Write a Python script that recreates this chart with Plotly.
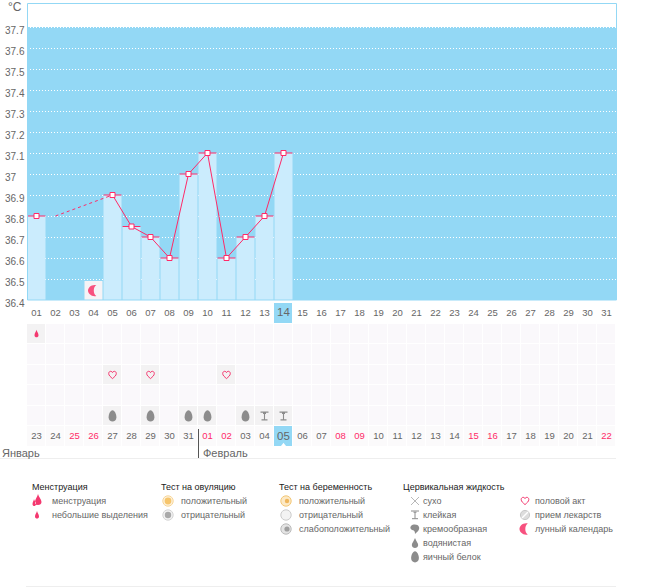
import plotly.graph_objects as go

W, H = 655, 587
FONT = "Liberation Sans"
GREY = "#666666"
PINK = "#FF2A68"
ICON_PINK = "#F4386F"
ICON_GREY = "#8C8C8C"
SKY = "#93D8F5"
BAR = "#CBECFD"

# temperature chart
days = list(range(1, 32))
temp_days = list(range(1, 15))
temps = [36.8, None, None, None, 36.9, 36.75, 36.7, 36.6, 37.0, 37.1, 36.6, 36.7, 36.8, 37.1]
gap_days = [2, 5]
gap_temps = [36.8, 36.9]
moon_days = [4]
moon_tops = [36.49]
temp_ticks = [36.4, 36.5, 36.6, 36.7, 36.8, 36.9, 37.0, 37.1, 37.2, 37.3, 37.4, 37.5, 37.6, 37.7]
temp_labels = ["36.4", "36.5", "36.6", "36.7", "36.8", "36.9", "37", "37.1", "37.2", "37.3", "37.4", "37.5", "37.6", "37.7"]

# date rows
cycle_labels = ["%02d" % d for d in days]
date_labels = ["23", "24", "25", "26", "27", "28", "29", "30", "31", "01", "02", "03", "04", "05", "06", "07",
               "08", "09", "10", "11", "12", "13", "14", "15", "16", "17", "18", "19", "20", "21", "22"]
weekend_dates = ["25", "26", "01", "02", "08", "09", "15", "16", "22"]
today = 14

# symptom rows, row 5 is the top one
spotting_days = [1]
sex_days = [5, 7, 11]
egg_white_days = [5, 7, 9, 10, 12]
sticky_days = [13, 14]


def paper(px, py):
    return px / W, 1 - py / H


def circle(xref, yref, x, y, r, fill, line="rgba(0,0,0,0)", lw=1):
    return dict(type="circle", xref=xref, yref=yref, xsizemode="pixel", ysizemode="pixel",
                xanchor=x, yanchor=y, x0=-r, x1=r, y0=-r, y1=r, fillcolor=fill,
                line=dict(color=line, width=lw), layer="above")


def glyph(xref, yref, x, y, path, fill="rgba(0,0,0,0)", line="rgba(0,0,0,0)", lw=1):
    return dict(type="path", xref=xref, yref=yref, xsizemode="pixel", ysizemode="pixel",
                xanchor=x, yanchor=y, path=path, fillcolor=fill,
                line=dict(color=line, width=lw), layer="above")


SMALL_DROP = "M0,4 C0.5,2 2,0.5 2,-1.5 C2,-3 1,-3.5 0,-3.5 C-1,-3.5 -2,-3 -2,-1.5 C-2,0.5 -0.5,2 0,4 Z"
BIG_DROP = ("M1,7 C1.5,4 4.5,2 4.5,-1 C4.5,-3 3,-4 1,-4 C-1,-4 -2,-3 -2,-1 C-2,2 0.5,4 1,7 Z "
            "M-3,2 C-3,1 -4.5,-1 -4.5,-3 C-4.5,-4.5 -3.5,-5 -3,-5 C-2,-5 -1,-4.5 -1,-3 C-1,-1 -3,1 -3,2 Z")
HEART = ("M0,-3.6 C-2,-1.8 -3.8,-0.5 -3.8,1.5 C-3.8,3 -2.7,3.7 -1.8,3.7 C-0.9,3.7 -0.3,3.2 0,2.4 "
         "C0.3,3.2 0.9,3.7 1.8,3.7 C2.7,3.7 3.8,3 3.8,1.5 C3.8,-0.5 2,-1.8 0,-3.6 Z")
EGG = "M0,5.8 C2.2,5.8 3.9,1.8 3.9,-1 C3.9,-3.9 2,-5.4 0,-5.4 C-2,-5.4 -3.9,-3.9 -3.9,-1 C-3.9,1.8 -2.2,5.8 0,5.8 Z"
STICKY = "M-4,4 L4,4 M-1.5,2.8 L1.5,2.8 M0,3 L0,-3.5 M-3,-3.7 L3,-3.7"
DRY = "M-4,4 L4,-4 M-4,-4 L4,4"
CREAM = "M-4,3 C-2,5 3,5 4,2 C5,-1 2,-3 0,-5 C0,-2 -1,-1 -3,-1 C-5,0 -5,2 -4,3 Z"
WATER = "M0,5 C1,2 3.2,0 3.2,-2 C3.2,-4 1.5,-5 0,-5 C-1.5,-5 -3.2,-4 -3.2,-2 C-3.2,0 -1,2 0,5 Z"
MOON = "M2.8,5.5 C-2,6.5 -5.5,3 -5.5,0 C-5.5,-3 -2,-6.5 2.8,-5.5 C-0.5,-3.5 -0.5,3.5 2.8,5.5 Z"

shapes = []

# blue field and frame of the chart
shapes.append(dict(type="rect", xref="x", yref="y", x0=0.5, x1=31.5, y0=36.4, y1=37.7,
                   fillcolor=SKY, line_width=0, layer="below"))
shapes.append(dict(type="rect", xref="paper", yref="paper", x0=27.5 / W, x1=616.5 / W,
                   y0=paper(0, 300)[1], y1=paper(0, 3.5)[1],
                   fillcolor="rgba(0,0,0,0)", line=dict(color=SKY, width=1), layer="above"))

# icons in the rows
for d in moon_days:
    shapes.append(glyph("x", "y", d, 36.445, MOON, fill="#F7517F"))
for d in spotting_days:
    shapes.append(glyph("x", "y2", d, 5, SMALL_DROP, fill=ICON_PINK))
for d in sex_days:
    shapes.append(glyph("x", "y2", d, 3, HEART, line=ICON_PINK, lw=1))
for d in egg_white_days:
    shapes.append(glyph("x", "y2", d, 1, EGG, fill=ICON_GREY))
for d in sticky_days:
    shapes.append(glyph("x", "y2", d, 1, STICKY, line=ICON_GREY, lw=1.1))

# month divider and separators
shapes.append(dict(type="line", xref="paper", yref="paper", x0=198.5 / W, x1=198.5 / W,
                   y0=paper(0, 458)[1], y1=paper(0, 429)[1], line=dict(color="#555555", width=1)))
for py, px0 in [(458.5, 0), (586.5, 26)]:
    shapes.append(dict(type="line", xref="paper", yref="paper", x0=px0 / W, x1=616 / W,
                       y0=paper(0, py)[1], y1=paper(0, py)[1], line=dict(color="#EEEEEE", width=1)))

fig = go.Figure()

# tile grid: 0 empty, 1 used, 2 date row, 3 today
rows = list(range(7))
z = []
for r in rows:
    if r == 6:
        z.append([3 if d == today else None for d in days])
    elif r == 0:
        z.append([3 if d == today else 2 for d in days])
    else:
        z.append([0] * 31)
for d in spotting_days:
    z[5][d - 1] = 1
for d in sex_days:
    z[3][d - 1] = 1
for d in egg_white_days + sticky_days:
    z[1][d - 1] = 1

fig.add_trace(go.Heatmap(x=days, y=rows, z=z, xaxis="x", yaxis="y2", zmin=0, zmax=3, xgap=1, ygap=1,
                         showscale=False, hoverinfo="skip",
                         colorscale=[[0, "#FAF8FB"], [0.167, "#FAF8FB"], [0.167, "#F3F2F3"], [0.5, "#F3F2F3"],
                                     [0.5, "#FBFAFB"], [0.833, "#FBFAFB"], [0.833, SKY], [1, SKY]]))

fig.add_trace(go.Bar(x=temp_days, y=temps, width=0.947, marker=dict(color=BAR, line_width=0)))
fig.add_trace(go.Bar(x=moon_days, y=moon_tops, width=0.947, marker=dict(color="#F6F3F6", line_width=0)))
fig.add_trace(go.Scatter(x=gap_days, y=gap_temps, mode="lines",
                         line=dict(color=PINK, width=1, dash="3px,3px")))
fig.add_trace(go.Scatter(x=temp_days, y=temps, mode="lines+markers",
                         line=dict(color=PINK, width=1),
                         marker=dict(symbol="square", size=5, color="white", line=dict(color=PINK, width=1)),
                         error_x=dict(type="constant", value=0.47, width=0, thickness=1, color=PINK)))

# date labels
top_font = [11.5 if d == today else 9.5 for d in days]
fig.add_trace(go.Scatter(x=days, y=[6] * 31, mode="text", text=cycle_labels, yaxis="y2",
                         textfont=dict(size=top_font, color=GREY, family=FONT), textposition="middle center"))
date_colors = [PINK if t in weekend_dates else GREY for t in date_labels]
fig.add_trace(go.Scatter(x=days, y=[0] * 31, mode="text", text=date_labels, yaxis="y2",
                         textfont=dict(size=top_font, color=date_colors, family=FONT),
                         textposition="middle center"))
fig.add_trace(go.Scatter(x=[today], y=[-0.42], mode="markers", yaxis="y2", cliponaxis=False,
                         marker=dict(symbol="triangle-up", size=5, color="white")))

annotations = []
for tick, label_text in zip(temp_ticks, temp_labels):
    annotations.append(dict(x=paper(3, 0)[0], xref="paper", y=tick, yref="y", yshift=-3, text=label_text,
                            showarrow=False, xanchor="left", yanchor="middle", font=dict(size=10, color=GREY)))


def label(px, py, text, size=9, color=GREY):
    annotations.append(dict(x=paper(px - 2, py)[0], y=paper(px, py)[1], xref="paper", yref="paper", text=text,
                            showarrow=False, xanchor="left", yanchor="middle",
                            font=dict(size=size, color=color)))


label(8, 7, "°C", 12)
label(2, 453, "Январь", 11)
label(203, 453, "Февраль", 11)

# legend
legend_titles = ["Менструация", "Тест на овуляцию", "Тест на беременность", "Цервикальная жидкость"]
legend_title_x = [32, 161, 279, 403]
period_items = ["менструация", "небольшие выделения"]
ovulation_items = ["положительный", "отрицательный"]
pregnancy_items = ["положительный", "отрицательный", "слабоположительный"]
fluid_items = ["сухо", "клейкая", "кремообразная", "водянистая", "яичный белок"]
other_items = ["половой акт", "прием лекарств", "лунный календарь"]

for text, px in zip(legend_titles, legend_title_x):
    label(px, 487, text, 9, "#222222")
for items, px in [(period_items, 52), (ovulation_items, 181), (pregnancy_items, 299), (fluid_items, 423),
                  (other_items, 535)]:
    for i, text in enumerate(items):
        label(px, 501 + 14 * i, text)


def at(px, row):
    return paper(px, 501 + 14 * row)


x, y = at(37, 0)
shapes.append(glyph("paper", "paper", x, y, BIG_DROP, fill=ICON_PINK))
x, y = at(37, 1)
shapes.append(glyph("paper", "paper", x, y, SMALL_DROP, fill=ICON_PINK))
x, y = at(168, 0)
shapes.append(circle("paper", "paper", x, y, 5.2, "#FDF3DF", "#F8D596", 1))
shapes.append(circle("paper", "paper", x, y, 3.4, "#F6C56C"))
x, y = at(168, 1)
shapes.append(circle("paper", "paper", x, y, 5.2, "#F2F2F2", "#D4D4D4", 1))
shapes.append(circle("paper", "paper", x, y, 3.2, "#A9A9A9"))
x, y = at(286, 0)
shapes.append(circle("paper", "paper", x, y, 5.2, "#FCE9C6", "#F3C776", 1))
shapes.append(circle("paper", "paper", x + 1 / W, y, 2.2, "#EFB65C"))
x, y = at(286, 1)
shapes.append(circle("paper", "paper", x, y, 5.2, "#F3F3F3", "#CCCCCC", 1))
x, y = at(286, 2)
shapes.append(circle("paper", "paper", x, y, 5.2, "#E4E4E4", "#BBBBBB", 1))
shapes.append(circle("paper", "paper", x + 1 / W, y, 2.6, "#9F9F9F"))
x, y = at(415, 0)
shapes.append(glyph("paper", "paper", x, y, DRY, line="#999999", lw=0.7))
x, y = at(415, 1)
shapes.append(glyph("paper", "paper", x, y, STICKY, line=ICON_GREY, lw=1))
x, y = at(415, 2)
shapes.append(glyph("paper", "paper", x, y, CREAM, fill=ICON_GREY))
x, y = at(415, 3)
shapes.append(glyph("paper", "paper", x, y, WATER, fill=ICON_GREY))
x, y = at(415, 4)
shapes.append(glyph("paper", "paper", x, y, EGG, fill=ICON_GREY))
x, y = at(525, 0)
shapes.append(glyph("paper", "paper", x, y, HEART, line=ICON_PINK, lw=1))
x, y = at(525, 1)
shapes.append(circle("paper", "paper", x, y, 4.6, "#DDDDDD", "#C8C8C8", 1))
shapes.append(glyph("paper", "paper", x, y, "M-3,-3 L3,3", line="white", lw=1.5))
x, y = at(525, 2)
shapes.append(glyph("paper", "paper", x, y, MOON, fill="#F7517F"))

fig.update_layout(
    width=W, height=H, autosize=False,
    margin=dict(l=0, r=0, t=0, b=0),
    paper_bgcolor="white", plot_bgcolor="white",
    showlegend=False, barmode="overlay",
    font=dict(family=FONT, size=10, color=GREY),
    xaxis=dict(domain=[27 / W, 616 / W], range=[0.5, 31.5], visible=False, anchor="y"),
    yaxis=dict(domain=[paper(0, 300)[1], paper(0, 3)[1]], range=[36.4, 37.7 + 24 / 210], tickvals=temp_ticks,
               showticklabels=False, gridcolor="white", griddash="1px,2px", gridwidth=1, zeroline=False),
    yaxis2=dict(domain=[paper(0, 447)[1], paper(0, 303)[1]], range=[-0.5, 6.5], visible=False, anchor="x"),
    shapes=shapes,
    annotations=annotations,
)

fig.write_html("out.html", config={"displayModeBar": False}, post_script="document.body.style.margin='0';")
